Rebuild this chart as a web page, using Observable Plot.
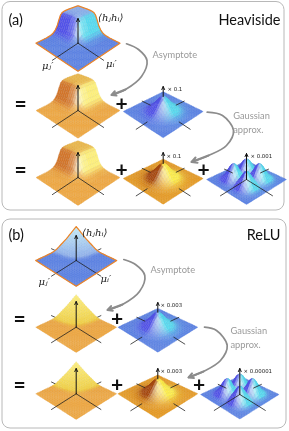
<!DOCTYPE html>
<html><head><meta charset="utf-8">
<script src="https://cdn.jsdelivr.net/npm/d3@7"></script>
<script src="https://cdn.jsdelivr.net/npm/@observablehq/plot@0.6"></script>
<style>html,body{margin:0;padding:0;background:#fff;overflow:hidden}svg{display:block;filter:blur(.35px)}</style>
</head><body><div id="c"></div>
<script>
// height profiles along one axis (25 samples, u = -1..1)
const stepProfile = [1,1,1,1,1,1,1,.99,.98,.95,.85,.6,.33,.18,.09,.04,.02,.01,0,0,0,0,0,0,0];
const rampProfile = [1,.9,.8,.7,.62,.52,.44,.37,.3,.24,.17,.11,.06,.03,.01,0,0,0,0,0,0,0,0,0,0];
const bumpProfile = [0,.005,.015,.035,.07,.12,.21,.33,.48,.65,.82,.96,1,.96,.82,.65,.48,.33,.21,.12,.07,.035,.015,.005,0];
const twinProfile = [0,.01,.03,.08,.2,.42,.68,.9,1,.95,.75,.5,.35,.5,.75,.95,1,.9,.68,.42,.2,.08,.03,.01,0];

// palettes
const blue   = {base:"#5c84e6", top:"#8db0ee", dark:"#5252ea", light:"#58dcf0", white:"#eaffff"};
const orange = {base:"#f2aa40", top:"#f2bc48", dark:"#d4762a", light:"#fff27c", white:"#fffff0"};
const deep   = {base:"#e99c22", top:"#ffdd38", dark:"#a8480c", light:"#fff04a", white:"#fffff2"};
const ramp1  = {base:"#5c84e6", mid:"#86a8ec", top:"#c8eef8"};
const ramp2  = {base:"#f2aa40", mid:"#f4cf3a", top:"#fdf080"};

// surfaces: profile, centre, half-width, half-depth, height, palette, axis style
const surfaces = [
 {p:stepProfile,cx:77.5,cy:42.7,hw:42,hh:28,h:22,pal:blue,axes:"front",outline:true,tip:18,from:"c"},
 {p:stepProfile,cx:77.5,cy:110,hw:42,hh:27.7,h:21.3,pal:orange,axes:"front",tip:85,from:"c"},
 {p:bumpProfile,cx:162.7,cy:111,hw:40,hh:26.3,h:15,pal:blue,axes:"out",tip:86,from:"p"},
 {p:stepProfile,cx:77.5,cy:177,hw:42,hh:28,h:21,pal:orange,axes:"front",tip:152,from:"c"},
 {p:bumpProfile,cx:162.7,cy:178,hw:40,hh:25.7,h:15,pal:deep,axes:"out",tip:152,from:"p"},
 {p:twinProfile,cx:246,cy:179,hw:40,hh:25,h:16,pal:blue,axes:"twin",tip:153,from:"c"},
 {p:rampProfile,cx:75.7,cy:260,hw:40.5,hh:25.7,h:19.6,pal:ramp1,axes:"ramp",outline:true,tip:235,from:"c"},
 {p:rampProfile,cx:75.7,cy:326.7,hw:40.5,hh:25.3,h:18,pal:ramp2,axes:"ramp",tip:301,from:"c"},
 {p:bumpProfile,cx:157.3,cy:326.7,hw:40,hh:25,h:15,pal:blue,axes:"out",tip:302,from:"p"},
 {p:rampProfile,cx:75.7,cy:393.3,hw:40.5,hh:25.7,h:17,pal:ramp2,axes:"ramp",tip:368,from:"c"},
 {p:bumpProfile,cx:157.3,cy:393.3,hw:40,hh:25,h:15,pal:deep,axes:"out",tip:368,from:"p"},
 {p:twinProfile,cx:239.3,cy:394,hw:39.3,hh:24.5,h:16,pal:blue,axes:"twin",tip:368,from:"c"}
];

// axis stretches (in half-axis units) per style
const axisStyles = {
 front:[[0,1.22]],
 ramp:[[0,1.22],[-1.22,-1]],
 out:[[.8,1.35],[-1.05,-.65]],
 twin:[[0,1.3],[-1.1,-.7]]
};

const panels = [{x1:2,x2:284,y1:1.5,y2:210},{x1:2,x2:286,y1:219,y2:428}];
const titlesLeft = [{t:"(a)",x:8,y:20},{t:"(b)",x:8,y:235}];
const titlesRight = [{t:"Heaviside",x:280,y:20},{t:"ReLU",x:280,y:235}];
const grays = [
 {t:"Asymptote",x:152,y:55},{t:"Gaussian",x:232.7,y:116},{t:"approx.",x:232.7,y:130},
 {t:"Asymptote",x:150,y:270},{t:"Gaussian",x:230,y:331},{t:"approx.",x:230,y:345}
];
const signs = [
 {t:"=",x:20,y:104},{t:"+",x:121,y:104},{t:"=",x:20,y:170},{t:"+",x:121,y:170},{t:"+",x:203,y:170},
 {t:"=",x:19,y:319},{t:"+",x:116.7,y:319},{t:"=",x:19,y:385},{t:"+",x:116.7,y:385},{t:"+",x:198.7,y:385}
];
const factors = [
 {t:"× 0.1",x:167,y:88.7},{t:"× 0.1",x:166,y:155.3},{t:"× 0.001",x:250,y:155.3},
 {t:"× 0.003",x:160,y:304.3},{t:"× 0.003",x:160,y:371},{t:"× 0.00001",x:243,y:371}
];
const maths = [
 {t:"⟨hⱼhᵢ⟩",x:97.5,y:17},{t:"μⱼ′",x:41.5,y:65},{t:"μᵢ′",x:105.5,y:63},
 {t:"⟨hⱼhᵢ⟩",x:81.5,y:232},{t:"μⱼ′",x:38,y:281},{t:"μᵢ′",x:100,y:278}
];
const bends = [
 [[126,43.3],[138,49],[146.5,60],[141,76],[125,89],[111,94.5]],
 [[206.7,111.7],[222,115],[233,130],[226,145],[208,155],[191,161.5]],
 [[123.3,259],[135,264],[144.3,275],[139,291],[122,304],[107,309.5]],
 [[204,326.7],[216,330],[226.7,345],[220,360],[203,371],[188,377]]
];

const mix = (a,b,t)=>d3.interpolateRgb(a,b)(Math.max(0,Math.min(1,t)));
// back half of each square is foreshortened
const depth = d=>d<0?d*.75:d;
const lift = d=>d<0?1+.25*d:1;
const cells=[], axisLines=[], ups=[], outlines=[];
surfaces.forEach((s,si)=>{
  const n=s.p.length, P=s.pal;
  const Z=(i,j)=>s.p[i]*s.p[j];
  const pt=(i,j)=>{const u=-1+2*i/(n-1),v=-1+2*j/(n-1),d=(u+v)/2;
    return [s.cx+s.hw*(u-v)/2, s.cy+s.hh*depth(d)-s.h*lift(d)*Z(i,j)];};
  const list=[];
  for(let i=0;i<n-1;i++)for(let j=0;j<n-1;j++){
    const z=(Z(i,j)+Z(i+1,j)+Z(i,j+1)+Z(i+1,j+1))/4;
    const d=(n-1)/2;
    const du=((Z(i+1,j)+Z(i+1,j+1))-(Z(i,j)+Z(i,j+1)))/2*d;
    const dv=((Z(i,j+1)+Z(i+1,j+1))-(Z(i,j)+Z(i+1,j)))/2*d;
    let c;
    if(P.mid){
      c= z<.02 ? mix(P.base,P.mid,z/.02) : mix(P.mid,P.top,Math.sqrt(z));
    } else {
      c=mix(P.base,P.top,z);
      const sh=(dv-du)*.7;
      c= sh>0? mix(c,P.light,sh): mix(c,P.dark,-sh);
      if(du<0&&dv<0) c=mix(c,P.white,Math.min(.8,Math.sqrt(du*dv)*.35));
    }
    const stroke=d3.color(mix(c,"#446",.12)).formatHex();
    list.push({i,j,c,stroke,key:i+j});
  }
  list.sort((a,b)=>a.key-b.key);
  list.forEach((q,k)=>{
    const id=si+"-"+k;
    [[q.i,q.j],[q.i+1,q.j],[q.i+1,q.j+1],[q.i,q.j+1],[q.i,q.j]].forEach(([a,b])=>{
      const [x,y]=pt(a,b); cells.push({id,x,y,c:q.c,st:q.stroke,si});
    });
  });
  axisStyles[s.axes].forEach((seg,k)=>{
    [1,-1].forEach(dir=>{
      const id=si+"/"+k+"/"+dir;
      seg.forEach(t=>axisLines.push({id,x:s.cx+dir*s.hw*t/2,y:s.cy+s.hh*depth(t/2),back:s.axes==="ramp"&&k===1}));
    });
  });
  ups.push({x:s.cx,y1:s.from==="c"?s.cy:s.cy-s.h,y2:s.tip});
  if(s.outline){
    const top=new Map();
    for(let i=0;i<n;i++)for(let j=0;j<n;j++){const [x,y]=pt(i,j);const k=i-j;
      if(!top.has(k)||top.get(k).y>y)top.set(k,{x,y,k});}
    const env=[...top.values()].sort((a,b)=>a.k-b.k);
    const [bx,by]=pt(n-1,n-1);
    [...env,{x:bx,y:by},env[0]].forEach(o=>outlines.push({id:si,x:o.x,y:o.y}));
  }
});

const arrowBodies=bends.flatMap((b,id)=>b.map(([x,y])=>({id,x,y})));
const arrowTips=bends.map(b=>{const [x1,y1]=b[b.length-2],[x2,y2]=b[b.length-1];return {x1,y1,x2,y2};});
const sans="Lato, 'Open Sans', sans-serif";

const chart=Plot.plot({
  width:289,height:431,margin:0,
  x:{domain:[0,289],range:[0,289],axis:null},
  y:{domain:[0,431],range:[0,431],axis:null},
  marks:[
    Plot.rect(panels,{x1:"x1",x2:"x2",y1:"y1",y2:"y2",rx:8,ry:8,fill:"#fff",stroke:"#b8b8b8",strokeWidth:1}),
    Plot.line(axisLines.filter(d=>d.back),{x:"x",y:"y",z:"id",stroke:"#222",strokeWidth:.8}),
    Plot.line(cells,{x:"x",y:"y",z:"id",fill:"c",stroke:"st",strokeWidth:.3,curve:"linear"}),
    Plot.line(axisLines.filter(d=>!d.back),{x:"x",y:"y",z:"id",stroke:"#222",strokeWidth:.8}),
    Plot.line(outlines,{x:"x",y:"y",z:"id",stroke:"#ee8424",strokeWidth:1.2,strokeLinejoin:"round"}),
    Plot.arrow(ups,{x:"x",y1:"y1",y2:"y2",stroke:"#111",strokeWidth:1,headLength:5,headAngle:50,inset:0}),
    Plot.line(arrowBodies,{x:"x",y:"y",z:"id",stroke:"#8c8c8c",strokeWidth:1.7,curve:"catmull-rom"}),
    Plot.arrow(arrowTips,{x1:"x1",y1:"y1",x2:"x2",y2:"y2",stroke:"#8c8c8c",strokeWidth:2,headLength:8,headAngle:55,inset:0}),
    Plot.text(titlesLeft,{x:"x",y:"y",text:"t",textAnchor:"start",fontSize:14.5,fontFamily:sans,fill:"#111"}),
    Plot.text(titlesRight,{x:"x",y:"y",text:"t",textAnchor:"end",fontSize:14.5,fontFamily:sans,fill:"#111"}),
    Plot.text(grays,{x:"x",y:"y",text:"t",textAnchor:"start",fontSize:9.3,fontFamily:sans,fill:"#9a9a9a"}),
    Plot.text(signs,{x:"x",y:"y",text:"t",fontSize:21,fontWeight:"bold",fontFamily:sans,fill:"#111"}),
    Plot.text(factors,{x:"x",y:"y",text:"t",textAnchor:"start",fontSize:5.4,fontFamily:"'DejaVu Sans'",fill:"#222"}),
    Plot.text(maths,{x:"x",y:"y",text:"t",textAnchor:"start",fontSize:10,fontStyle:"italic",fontFamily:"'DejaVu Serif'",fill:"#222"})
  ]
});
document.getElementById("c").appendChild(chart);
</script></body></html>
